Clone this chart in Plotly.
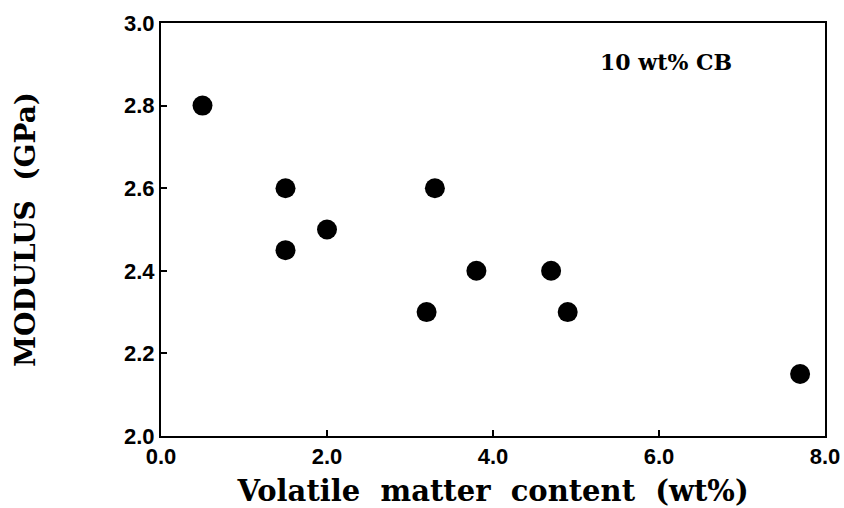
import plotly.graph_objects as go

# Volatile matter content (wt%) and tensile modulus (GPa), 10 wt% carbon black
volatile_wt = [0.5, 1.5, 1.5, 2.0, 3.2, 3.3, 3.8, 4.7, 4.9, 7.7]
modulus_gpa = [2.8, 2.6, 2.45, 2.5, 2.3, 2.6, 2.4, 2.4, 2.3, 2.15]

x_ticks = [0, 2, 4, 6, 8]
x_tick_text = ["0.0", "2.0", "4.0", "6.0", "8.0"]
y_ticks = [2.0, 2.2, 2.4, 2.6, 2.8, 3.0]
y_tick_text = ["2.0", "2.2", "2.4", "2.6", "2.8", "3.0"]

serif = "DejaVu Serif, Liberation Serif, serif"
tick_font = dict(family="Liberation Sans, Arial, sans-serif", size=22,
                 color="black", weight="bold")

fig = go.Figure()
fig.add_trace(go.Scatter(
    x=volatile_wt, y=modulus_gpa, mode="markers",
    marker=dict(size=20, color="black", line=dict(width=0)),
    showlegend=False,
))

fig.add_annotation(
    x=6.08, y=2.905, xref="x", yref="y", showarrow=False,
    text="10 wt% CB",
    font=dict(family=serif, size=22, color="black", weight="bold"),
)

fig.update_xaxes(
    range=[0, 8], tickvals=x_ticks, ticktext=x_tick_text,
    ticks="inside", ticklen=6, tickwidth=2, tickcolor="black",
    showline=True, linecolor="black", linewidth=2, mirror=True,
    showgrid=False, zeroline=False, automargin=False,
    tickfont=tick_font,
    title=dict(text="Volatile  matter  content  (wt%)",
               font=dict(family=serif, size=29, color="black", weight="bold"),
               standoff=16),
)
fig.update_yaxes(
    range=[2.0, 3.0], tickvals=y_ticks, ticktext=y_tick_text,
    ticks="inside", ticklen=6, tickwidth=2, tickcolor="black",
    showline=True, linecolor="black", linewidth=2, mirror=True,
    showgrid=False, zeroline=False, automargin=False,
    tickfont=tick_font,
    title=dict(text="MODULUS  (GPa)",
               font=dict(family=serif, size=28, color="black", weight="bold"),
               standoff=80),
)

fig.update_layout(
    width=844, height=508,
    margin=dict(l=161, r=19, t=23, b=72),
    paper_bgcolor="white", plot_bgcolor="white",
)

fig.write_html("out.html")
